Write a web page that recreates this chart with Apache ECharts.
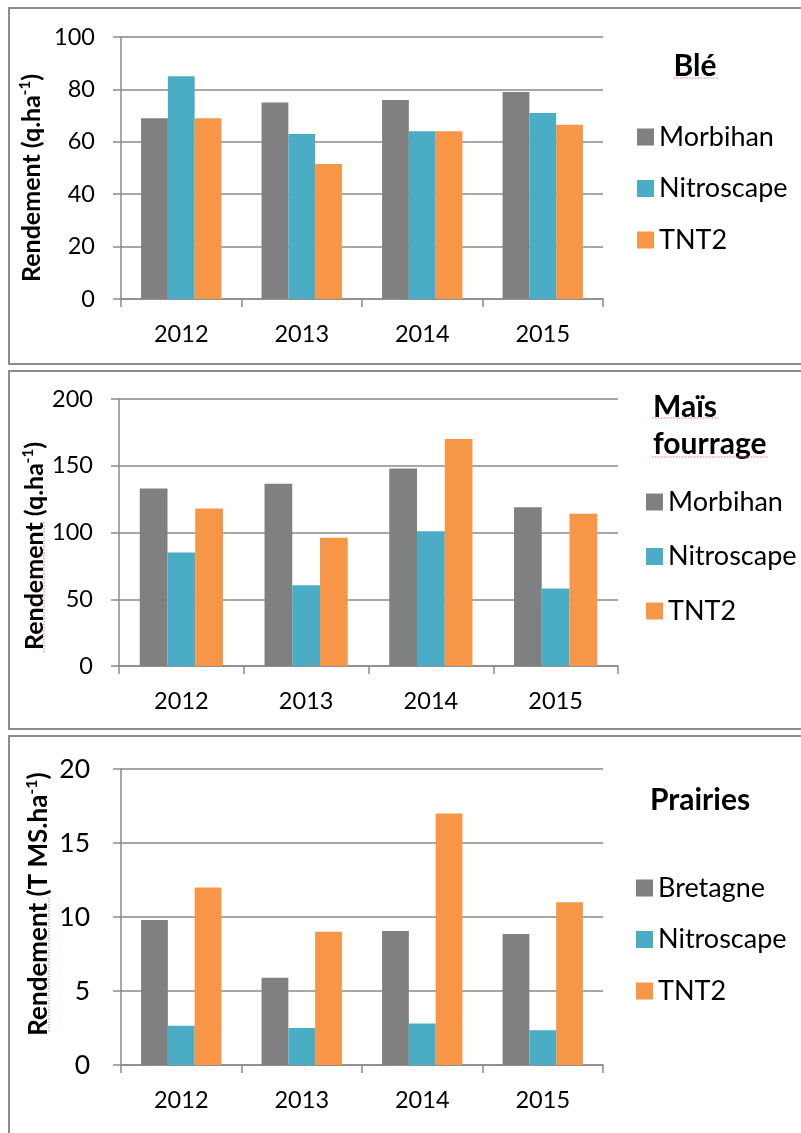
<!DOCTYPE html>
<html>
<head>
<meta charset="utf-8">
<title>Rendements 2012-2015</title>
<script src="https://cdn.jsdelivr.net/npm/echarts@6/dist/echarts.min.js"></script>
<style>
  html, body { margin: 0; padding: 0; background: #fff; overflow: hidden; }
  #chart { width: 801px; height: 1133px; }
</style>
</head>
<body>
<div id="chart"></div>
<script>
// Années communes aux trois graphiques
const years = ['2012', '2013', '2014', '2015'];

// Blé (q.ha-1)
const bleMorbihan = [69, 75, 76, 79];
const bleNitroscape = [85, 63, 64, 71];
const bleTnt2 = [69, 51.5, 64, 66.5];

// Maïs fourrage (q.ha-1)
const maisMorbihan = [133, 136.5, 148, 119];
const maisNitroscape = [85, 60.5, 101, 58];
const maisTnt2 = [118, 96, 170, 114];

// Prairies (T MS.ha-1)
const prairiesBretagne = [9.8, 5.9, 9.05, 8.85];
const prairiesNitroscape = [2.65, 2.5, 2.8, 2.35];
const prairiesTnt2 = [12, 9, 17, 11];

// Graduations des axes verticaux
const bleTicks = { min: 0, max: 100, interval: 20 };
const maisTicks = { min: 0, max: 200, interval: 50 };
const prairiesTicks = { min: 0, max: 20, interval: 5 };

const COLORS = { grey: '#808080', blue: '#4BACC6', orange: '#F79646' };
const LINE = '#8a8a8a';
const FONT = 'Lato, "Open Sans", sans-serif';

const chart = echarts.init(document.getElementById('chart'), null, { renderer: 'canvas' });

function xAxis(gridIndex) {
  return {
    type: 'category', gridIndex, data: years, boundaryGap: true,
    axisLine: { show: true, lineStyle: { color: LINE, width: 1.5 } },
    axisTick: { show: true, inside: false, length: 8, alignWithLabel: false, lineStyle: { color: LINE, width: 1.5 } },
    axisLabel: { color: '#000', fontFamily: FONT, fontSize: 23.5, margin: 23 },
    splitLine: { show: false }
  };
}

function yAxis(gridIndex, ticks, labelSize, margin) {
  return {
    type: 'value', gridIndex, min: ticks.min, max: ticks.max, interval: ticks.interval,
    axisLine: { show: true, lineStyle: { color: LINE, width: 1.5 } },
    axisTick: { show: true, inside: false, length: 8, lineStyle: { color: LINE, width: 1.5 } },
    axisLabel: { color: '#000', fontFamily: FONT, fontSize: labelSize, margin },
    splitLine: { show: true, lineStyle: { color: LINE, width: 1.5 } }
  };
}

function bar(name, data, color, idx) {
  return {
    type: 'bar', name, data, xAxisIndex: idx, yAxisIndex: idx,
    barGap: '0%', barCategoryGap: '33.3%',
    itemStyle: { color }, silent: true, animation: false
  };
}

function legend(names, left, top, gap) {
  return {
    orient: 'vertical', left, top, data: names, selectedMode: false,
    icon: 'rect', itemWidth: 17, itemHeight: 17, itemGap: gap,
    textStyle: { color: '#000', fontFamily: FONT, fontSize: 27, lineHeight: 30 }
  };
}

function axisName(x, y, main, size) {
  return {
    type: 'text', x, y, rotation: Math.PI / 2, silent: true,
    style: {
      text: '{b|' + main + '}{s|-1}{b|)}',
      align: 'center', verticalAlign: 'middle', fill: '#000',
      rich: {
        b: { fontFamily: FONT, fontWeight: 'bold', fontSize: size, lineHeight: size + 4, fill: '#000' },
        s: { fontFamily: FONT, fontWeight: 'bold', fontSize: Math.round(size * 0.6), lineHeight: size + 4, verticalAlign: 'top', fill: '#000' }
      }
    }
  };
}

function titleText(x, y, text, align) {
  return {
    type: 'text', x, y, silent: true,
    style: {
      text, align, verticalAlign: 'middle', fill: '#000',
      font: 'bold 30px ' + FONT, lineHeight: 37
    }
  };
}

function frame(x, y, w, h) {
  return {
    type: 'rect', silent: true, z: -1,
    shape: { x, y, width: w, height: h },
    style: { fill: 'none', stroke: '#8c8c8c', lineWidth: 2 }
  };
}

// Soulignement pointillé rouge (correcteur orthographique)
function squiggle(x1, y1, x2, y2) {
  return {
    type: 'line', silent: true,
    shape: { x1, y1, x2, y2 },
    style: { stroke: '#e8706a', lineWidth: 1, lineDash: [1.5, 1.5] }
  };
}

chart.setOption({
  animation: false,
  grid: [
    { left: 121, top: 37, width: 482, height: 262 },
    { left: 119, top: 399, width: 499, height: 267 },
    { left: 121, top: 769, width: 482, height: 296 }
  ],
  xAxis: [xAxis(0), xAxis(1), xAxis(2)],
  yAxis: [yAxis(0, bleTicks, 23.5, 26), yAxis(1, maisTicks, 23.5, 26), yAxis(2, prairiesTicks, 26.5, 31)],
  legend: [
    legend(['Morbihan', 'Nitroscape', 'TNT2'], 632, 117, 21.5),
    legend(['Morbihan', 'Nitroscape', 'TNT2'], 641, 482, 24.5),
    legend(['Bretagne', 'Nitroscape', 'TNT2'], 631, 868, 21.5)
  ],
  series: [
    bar('Morbihan', bleMorbihan, COLORS.grey, 0),
    bar('Nitroscape', bleNitroscape, COLORS.blue, 0),
    bar('TNT2', bleTnt2, COLORS.orange, 0),
    bar('Morbihan', maisMorbihan, COLORS.grey, 1),
    bar('Nitroscape', maisNitroscape, COLORS.blue, 1),
    bar('TNT2', maisTnt2, COLORS.orange, 1),
    bar('Bretagne', prairiesBretagne, COLORS.grey, 2),
    bar('Nitroscape', prairiesNitroscape, COLORS.blue, 2),
    bar('TNT2', prairiesTnt2, COLORS.orange, 2)
  ],
  graphic: [
    frame(9, 8, 820, 356),
    frame(9, 371, 820, 358),
    frame(9, 736, 820, 420),
    axisName(32, 178, 'Rendement (q.ha', 25),
    axisName(35, 546, 'Rendement (q.ha', 25),
    axisName(39, 904, 'Rendement (T MS.ha', 26),
    titleText(695, 66, 'Blé', 'center'),
    titleText(653, 426, 'Maïs\nfourrage', 'left'),
    titleText(700, 800, 'Prairies', 'center'),
    squiggle(674, 78, 718, 78),
    squiggle(652, 418, 719, 418),
    squiggle(652, 457, 768, 457),
    squiggle(44, 522, 44, 653),
    squiggle(49, 898, 49, 1032)
  ]
});
</script>
</body>
</html>
